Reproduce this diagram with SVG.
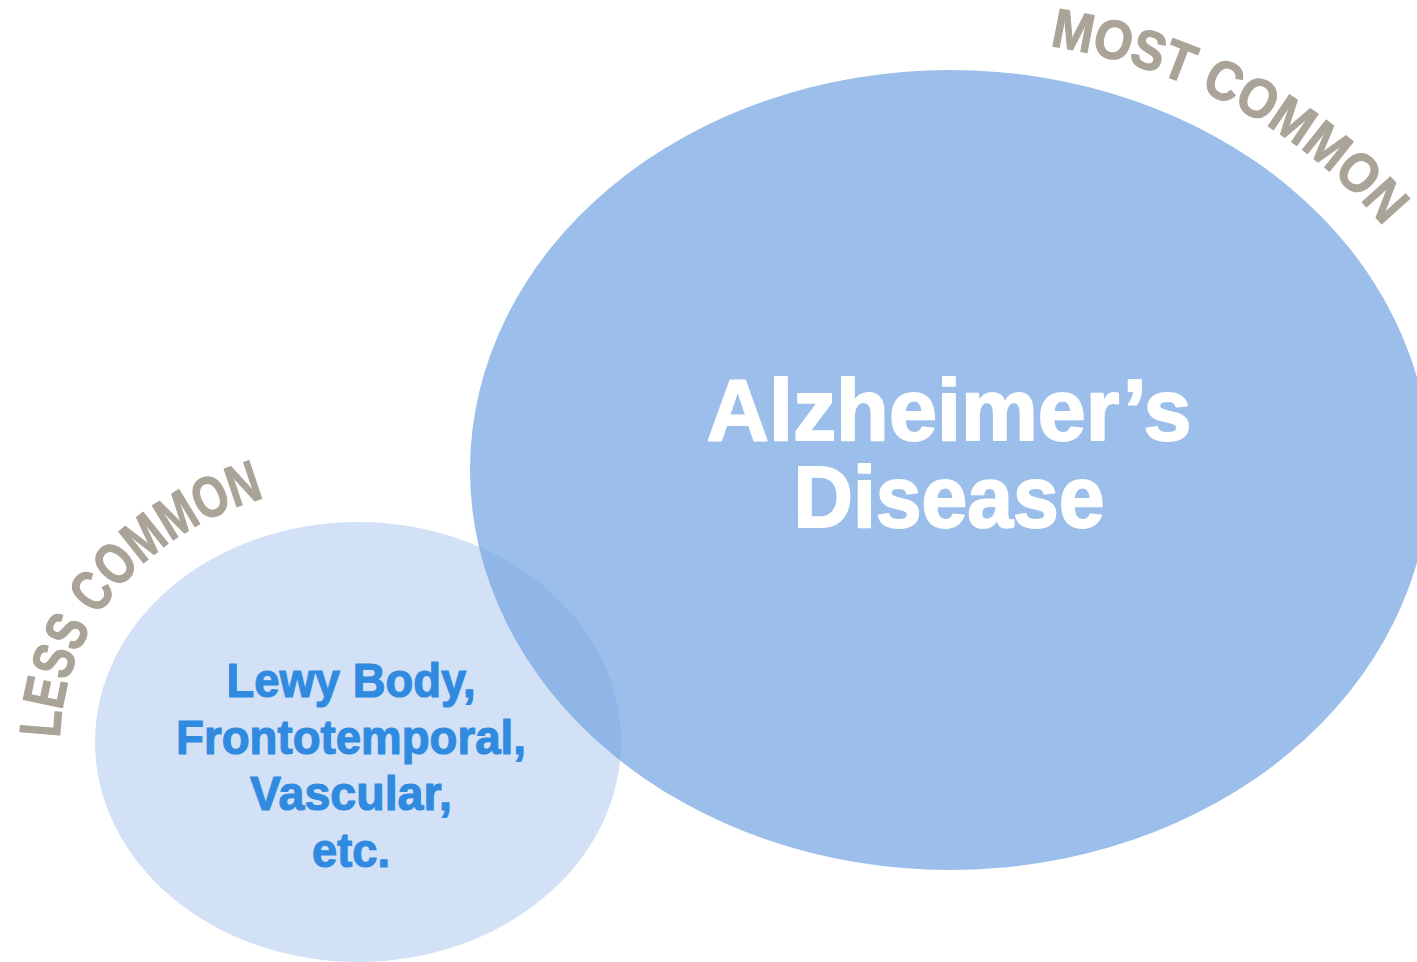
<svg xmlns="http://www.w3.org/2000/svg" width="1417" height="962" viewBox="0 0 1417 962">
<style>
.arc{font-family:"Liberation Sans",Arial,sans-serif;font-weight:bold;fill:#aaa398;stroke:#aaa398;stroke-width:1.2px;stroke-linejoin:round}
.main{font-family:"Liberation Sans",Arial,sans-serif;font-weight:bold;fill:#ffffff;stroke:#ffffff;stroke-width:2px;stroke-linejoin:round;font-size:88px;text-anchor:middle}
.sub{font-family:"Liberation Sans",Arial,sans-serif;font-weight:bold;fill:#2f8ae0;stroke:#2f8ae0;stroke-width:1.2px;stroke-linejoin:round;font-size:49px;text-anchor:middle}
</style>
<defs>
<path id="mostArc" d="M 950,38 A 525,432 0 0 1 1475,470"/>
<path id="lessArc" d="M 60,742 A 298,257 0 0 1 358,485"/>
</defs>
<rect width="1417" height="962" fill="#ffffff"/>
<g id="alzheimers">
<ellipse cx="950" cy="470" rx="480" ry="400" fill="#9bbeea"/>
<text class="main" x="949" y="440" textLength="485" lengthAdjust="spacingAndGlyphs">Alzheimer’s</text>
<text class="main" x="949" y="527" textLength="311" lengthAdjust="spacingAndGlyphs">Disease</text>
</g>
<g id="others">
<ellipse cx="358" cy="742" rx="263" ry="220" fill="#7aa6e1" fill-opacity="0.34"/>
<text class="sub" x="351" y="697" textLength="249" lengthAdjust="spacingAndGlyphs">Lewy Body,</text>
<text class="sub" x="351" y="754" textLength="350" lengthAdjust="spacingAndGlyphs">Frontotemporal,</text>
<text class="sub" x="351" y="810" textLength="202" lengthAdjust="spacingAndGlyphs">Vascular,</text>
<text class="sub" x="351" y="867" textLength="78" lengthAdjust="spacingAndGlyphs">etc.</text>
</g>
<g id="labels">
<text class="arc" font-size="55"><textPath href="#mostArc" startOffset="100" textLength="388" lengthAdjust="spacingAndGlyphs">MOST COMMON</textPath></text>
<text class="arc" font-size="58"><textPath href="#lessArc" startOffset="4" textLength="338" lengthAdjust="spacingAndGlyphs">LESS COMMON</textPath></text>
</g>
</svg>
